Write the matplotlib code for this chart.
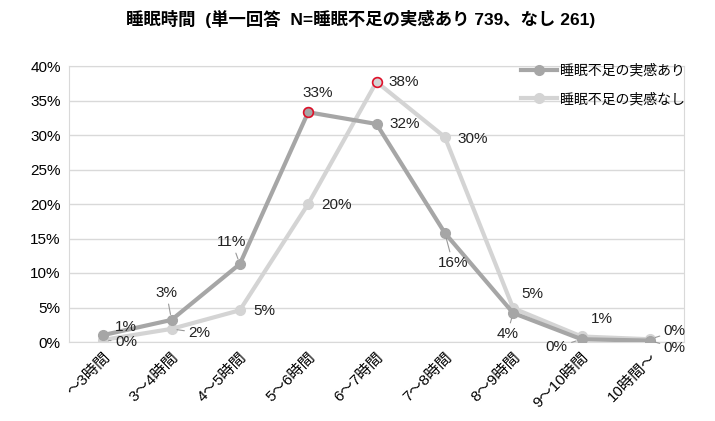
import matplotlib
matplotlib.use("Agg")
import matplotlib.pyplot as plt

plt.rcParams['font.family'] = ['Liberation Sans', 'Noto Sans CJK JP', 'DejaVu Sans']

categories = ["～3時間", "3～4時間", "4～5時間", "5～6時間", "6～7時間",
              "7～8時間", "8～9時間", "9～10時間", "10時間～"]
ari_values = [1.0, 3.2, 11.3, 33.3, 31.6, 15.8, 4.2, 0.4, 0.2]
nashi_values = [0.3, 1.9, 4.6, 20.0, 37.7, 29.7, 4.9, 0.8, 0.4]
ari_labels = ["1%", "3%", "11%", "33%", "32%", "16%", "4%", "0%", "0%"]
nashi_labels = ["0%", "2%", "5%", "20%", "38%", "30%", "5%", "1%", "0%"]
series_names = ["睡眠不足の実感あり", "睡眠不足の実感なし"]
title = "睡眠時間  (単一回答  N=睡眠不足の実感あり 739、なし 261)"

c_ari = "#a6a6a6"
c_nashi = "#d4d4d4"

fig = plt.figure(figsize=(7.15, 4.21), dpi=100)
ax = fig.add_axes([69/715, 1-342/421, (684-69)/715, (342-66)/421])

x = list(range(len(categories)))
ax.plot(x, ari_values, color=c_ari, lw=3, marker='o', ms=7, mfc=c_ari, mec=c_ari,
        label=series_names[0], zorder=3)
ax.plot(x, nashi_values, color=c_nashi, lw=3, marker='o', ms=7, mfc=c_nashi, mec=c_nashi,
        label=series_names[1], zorder=2)

# highlighted peaks
i1 = ari_values.index(max(ari_values))
i2 = nashi_values.index(max(nashi_values))
ax.plot([i1], [ari_values[i1]], marker='o', ms=7, mfc=c_ari, mec='#e0102a', mew=1.2, zorder=4)
ax.plot([i2], [nashi_values[i2]], marker='o', ms=7, mfc=c_nashi, mec='#e0102a', mew=1.2, zorder=4)

ari_off = [(23, 8, False), (-5, 27, True), (-8, 22, True), (10, 19, False), (28, 0, False),
           (8, -30, True), (-6, -21, True), (-25, -8, True), (25, -7, True)]
nashi_off = [(23, -2, True), (28, -4, True), (25, -1, False), (28, -1, False), (27, 0, False),
             (28, -2, False), (19, 14, False), (20, 17, False), (25, 8, True)]

def annotate(vals, labels, offs):
    for xi, (v, lab, (dx, dy, lead)) in enumerate(zip(vals, labels, offs)):
        kw = {}
        if lead:
            kw['arrowprops'] = dict(arrowstyle='-', color='#999999', lw=0.8,
                                    shrinkA=1, shrinkB=4)
        ax.annotate(lab, (xi, v), xytext=(dx, dy), textcoords='offset pixels',
                    ha='center', va='center', fontsize=11, color='#222222', zorder=6, **kw)

annotate(ari_values, ari_labels, ari_off)
annotate(nashi_values, nashi_labels, nashi_off)

ax.set_xlim(-0.5, len(categories) - 0.5)
ax.set_ylim(0, 40)
ax.set_yticks(range(0, 41, 5))
ax.set_yticklabels([f"{v}%" for v in range(0, 41, 5)], fontsize=11)
ax.set_xticks(x)
ax.set_xticklabels(categories, rotation=45, ha='right', rotation_mode='anchor', fontsize=11)
ax.tick_params(axis='both', length=0, pad=6)
ax.grid(axis='y', color='#d9d9d9', lw=1)
ax.set_axisbelow(True)
for s in ax.spines.values():
    s.set_color('#d9d9d9')

fig.legend(loc='upper left', bbox_to_anchor=(515/715, 1-58/421), frameon=False,
           fontsize=10, handlelength=2.6, labelspacing=1.05, handletextpad=0.25,
           borderaxespad=0)

fig.text(0.505, 1-19/421, title, ha='center', va='center', fontsize=12.5, fontweight='bold')

fig.savefig("out.png", dpi=100)
